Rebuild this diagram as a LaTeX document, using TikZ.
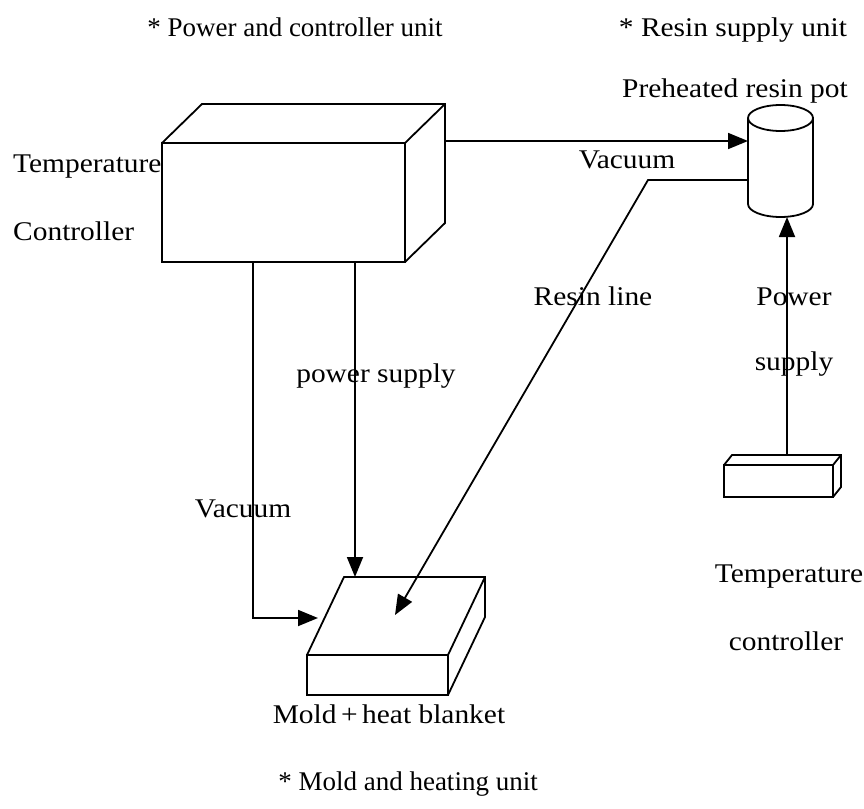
\documentclass[tikz,border=0pt]{standalone}
\usepackage{fontspec}
\setmainfont{Liberation Serif}
\newfontfamily\wideSerif{Liberation Serif}[FakeStretch=1.09]
\usetikzlibrary{arrows.meta, positioning}

\begin{document}
\begin{tikzpicture}[x=1pt, y=-1pt,
    titleText/.style={font=\fontsize{27}{32}\selectfont, inner sep=0pt, anchor=base},
    labelText/.style={font=\wideSerif\fontsize{27}{32}\selectfont, inner sep=0pt, anchor=base},
    unitBox/.style={draw, line width=1.8pt, inner sep=0pt, outer sep=0pt},
    flowLine/.style={line width=1.8pt, line join=miter},
    flowArrow/.style={flowLine, -{Triangle[length=20pt,width=16pt]}}]

    % Define page size
    \useasboundingbox (0,0) rectangle (864,808);

    % Unit titles
    \node[titleText] (powerTitle) at (295,37) {* Power and controller unit};
    \node[titleText, font=\wideSerif\fontsize{27}{32}\selectfont] (resinTitle) at (733,37) {* Resin supply unit};
    \node[titleText] (moldTitle) at (408,790) {* Mold and heating unit};

    % Draw the temperature controller (big box)
    \node[unitBox, minimum width=243pt, minimum height=119pt] (ctrl) at (283.5,202.5) {};
    \draw[flowLine] (ctrl.north west) -- ++(40,-39) -- ++(243,0) -- ++(0,119) -- (ctrl.south east);
    \draw[flowLine] (ctrl.north east) -- ++(40,-39);
    \node[labelText, anchor=base west] (ctrlTop) at (13,172) {Temperature};
    \node[labelText, anchor=base west] (ctrlBottom) at (13,240) {Controller};

    % Draw the preheated resin pot
    \coordinate (potTop) at (780.5,118);
    \node[inner sep=0pt, outer sep=0pt, minimum width=65pt, minimum height=86pt] (pot) at (780.5,161) {};
    \draw[flowLine] (potTop) ellipse (32.5pt and 13pt);
    \draw[flowLine] (pot.north west) -- (pot.south west)
        arc[start angle=180, end angle=360, x radius=32.5pt, y radius=13pt] -- (pot.north east);
    \coordinate (potBottom) at (787,217);
    \node[labelText] (potLabel) at (735,97) {Preheated resin pot};

    % Draw the small temperature controller
    \node[unitBox, minimum width=109pt, minimum height=32pt] (tc) at (778.5,481) {};
    \draw[flowLine] (tc.north west) -- ++(8,-10) -- ++(109,0) -- ++(0,32) -- (tc.south east);
    \draw[flowLine] (tc.north east) -- ++(8,-10);
    \coordinate (tcTop) at (787,455);
    \node[labelText] (tcTopText) at (789,582) {Temperature};
    \node[labelText] (tcBottomText) at (786,650) {controller};

    % Draw the mold + heat blanket
    \node[unitBox, minimum width=141pt, minimum height=40pt] (mold) at (377.5,675) {};
    \draw[flowLine] (mold.north west) -- ++(37,-78) -- ++(141,0) -- ++(0,40) -- (mold.south east);
    \draw[flowLine] (mold.north east) -- ++(37,-78);
    \node[labelText] (moldLabel) at (389,723) {Mold\,+\,heat blanket};

    % Vacuum line to the resin pot
    \coordinate (vacStart) at (445,141);
    \draw[flowArrow] (vacStart) -- (pot.west |- vacStart);
    \node[labelText] (vacTop) at (627,168) {Vacuum};

    % Resin line to the mold
    \coordinate (resinOut) at (pot.west |- 0,180);
    \coordinate (resinBend) at (648,180);
    \coordinate (resinIn) at (395,615);
    \draw[flowArrow] (resinOut) -- (resinBend) -- (resinIn);
    \node[labelText] (resinLabel) at (593,305) {Resin line};

    % Power supply to the resin pot
    \draw[flowArrow] (tcTop) -- (potBottom);
    \node[labelText] (potPower) at (794,305) {Power};
    \node[labelText] (potSupply) at (794,370) {supply};

    % Vacuum and power supply to the mold
    \coordinate (vacOut) at (253,262);
    \coordinate (vacBend) at (253,618);
    \coordinate (vacIn) at (318,618);
    \draw[flowArrow] (vacOut) -- (vacBend) -- (vacIn);
    \node[labelText] (vacLeft) at (243,517) {Vacuum};
    \coordinate (powOut) at (355,262);
    \coordinate (powIn) at (355,577);
    \draw[flowArrow] (powOut) -- (powIn);
    \node[labelText] (powLabel) at (376,382) {power supply};

\end{tikzpicture}
\end{document}
